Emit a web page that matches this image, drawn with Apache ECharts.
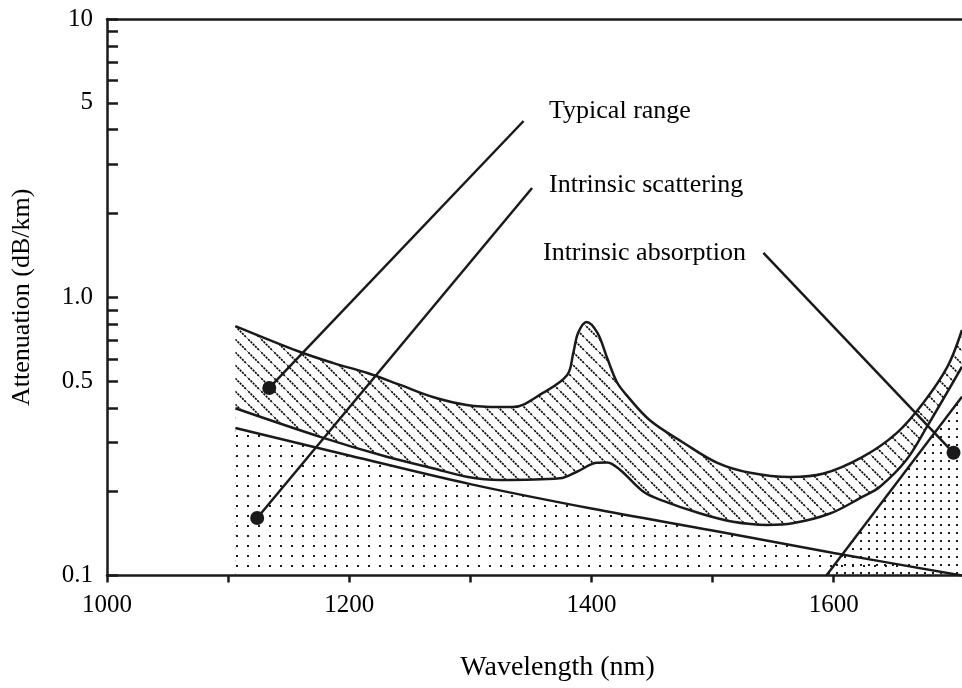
<!DOCTYPE html>
<html><head><meta charset="utf-8">
<script src="https://cdn.jsdelivr.net/npm/echarts@6/dist/echarts.min.js"></script>
<style>html,body{margin:0;padding:0;background:#fff}#c{width:962px;height:688px}</style>
</head><body><div id="c"></div>
<script>
// ---- data (wavelength nm, attenuation dB/km) ----
const xTicks = [1000, 1100, 1200, 1300, 1400, 1500, 1600];
const xLabels = [1000, 1200, 1400, 1600];
const yTicks = [0.1, 0.2, 0.3, 0.4, 0.5, 0.6, 0.7, 0.8, 0.9, 1, 2, 3, 4, 5, 6, 7, 8, 9, 10];
const yLabels = [0.1, 0.5, 1, 5, 10];

const typicalUpper = [[1106,0.788],[1159,0.637],[1187,0.580],[1215,0.534],[1242,0.484],[1269,0.438],[1297,0.410],[1324,0.403],[1335,0.403],[1360,0.453],[1380,0.525],[1385,0.630],[1389,0.744],[1396,0.815],[1405,0.744],[1413,0.605],[1421,0.496],[1429,0.445],[1448,0.362],[1476,0.300],[1504,0.254],[1531,0.234],[1564,0.226],[1591,0.232],[1624,0.267],[1652,0.325],[1674,0.417],[1694,0.563],[1706,0.763]];
const typicalLower = [[1106,0.399],[1176,0.315],[1231,0.267],[1269,0.243],[1297,0.2265],[1324,0.2204],[1374,0.2235],[1388,0.236],[1404,0.254],[1413,0.255],[1424,0.239],[1443,0.200],[1457,0.187],[1490,0.167],[1517,0.156],[1545,0.152],[1566,0.154],[1597,0.167],[1624,0.192],[1638,0.208],[1660,0.260],[1677,0.342],[1706,0.563]];
const scattering = [[1106,0.339],[1200,0.270],[1300,0.213],[1400,0.174],[1500,0.145],[1600,0.1205],[1706,0.100]];
const absorption = [[1594,0.100],[1706,0.439]];

const leaderNames = ['Typical range', 'Intrinsic scattering', 'Intrinsic absorption'];
const leaderEnd = [[1344,4.30],[1351,2.47],[1542,1.443]];
const leaderDot = [[1134,0.472],[1124,0.161],[1699,0.276]];
const leaderText = [[1365,4.67],[1365,2.53],[1360,1.443]];

// ---- styling helpers ----
const INK = '#1a1a1a';
const FONT = 'Liberation Serif';
function dotPattern(w, h, s) {
  const c = document.createElement('canvas'); c.width = w; c.height = h;
  const g = c.getContext('2d'); g.fillStyle = INK;
  g.fillRect(Math.floor(w / 2), Math.floor(h / 2), s, s);
  return { image: c, repeat: 'repeat' };
}
function hatchPattern(s) {
  const c = document.createElement('canvas'); c.width = s; c.height = s;
  const g = c.getContext('2d'); g.strokeStyle = '#000'; g.lineWidth = 1.6;
  g.setLineDash([2.2, 1.0]);
  g.beginPath(); g.moveTo(-1, -1); g.lineTo(s + 1, s + 1); g.stroke();
  return { image: c, repeat: 'repeat' };
}
const lineW = 2.5;
const chart = echarts.init(document.getElementById('c'));
const curve = (name, data, area, z) => ({
  name, type: 'line', data, symbol: 'none', smooth: 0.35, z,
  lineStyle: { color: INK, width: lineW },
  areaStyle: area ? Object.assign({ origin: 'start', opacity: 1 }, area) : undefined
});
const series = [
  curve('typicalUpper', typicalUpper, { color: hatchPattern(13) }, 1),
  curve('typicalLower', typicalLower, { color: '#ffffff' }, 2),
  curve('scattering', scattering, { color: dotPattern(11, 10, 2) }, 3),
  Object.assign(curve('absorption', absorption, { color: dotPattern(8, 8, 2) }, 3), { smooth: false })
];
leaderNames.forEach((n, i) => {
  series.push({ type: 'line', data: [leaderEnd[i], leaderDot[i]], symbol: 'none', z: 6,
    lineStyle: { color: INK, width: lineW } });
});
series.push({ type: 'scatter', data: leaderDot, symbolSize: 14, z: 7, itemStyle: { color: INK, opacity: 1 } });
series.push({ type: 'scatter', z: 7, symbolSize: 0, itemStyle: { opacity: 1 },
  data: leaderNames.map((n, i) => ({ name: n, value: leaderText[i] })),
  label: { show: true, position: 'right', distance: 0, formatter: '{b}', color: '#000', opacity: 1,
    fontFamily: FONT, fontSize: 26 } });

chart.setOption({
  animation: false,
  backgroundColor: '#ffffff',
  grid: { left: 107, right: 0, top: 19, bottom: 112.5 },
  xAxis: [{
    type: 'value', min: 1000, max: 1706, z: 10,
    name: 'Wavelength (nm)', nameLocation: 'middle', nameGap: 78,
    nameTextStyle: { fontFamily: FONT, fontSize: 28, color: '#000', padding: [0, 0, 0, 46] },
    axisLine: { show: true, lineStyle: { color: INK, width: lineW } },
    axisTick: { show: true, inside: false, length: 7, customValues: xTicks, lineStyle: { color: INK, width: lineW } },
    axisLabel: { customValues: xLabels, margin: 17, fontFamily: FONT, fontSize: 25, color: '#000',
      formatter: v => String(v) },
    splitLine: { show: false }
  }, {
    type: 'value', min: 1000, max: 1706, position: 'top', z: 10,
    axisLine: { show: true, lineStyle: { color: INK, width: lineW } },
    axisTick: { show: false }, axisLabel: { show: false }, splitLine: { show: false }
  }],
  yAxis: [{
    type: 'log', logBase: 10, min: 0.1, max: 10, z: 10,
    name: 'Attenuation (dB/km)', nameLocation: 'middle', nameGap: 72,
    nameTextStyle: { fontFamily: FONT, fontSize: 26, color: '#000' },
    axisLine: { show: true, lineStyle: { color: INK, width: lineW } },
    axisTick: { show: true, inside: true, length: 11, customValues: yTicks, lineStyle: { color: INK, width: lineW } },
    axisLabel: { customValues: yLabels, margin: 14, fontFamily: FONT, fontSize: 25, color: '#000',
      formatter: v => (Math.abs(v - 1) < 1e-9 ? '1.0' : String(+v.toPrecision(3))) },
    splitLine: { show: false }, minorTick: { show: false }
  }],
  series
});
</script></body></html>
